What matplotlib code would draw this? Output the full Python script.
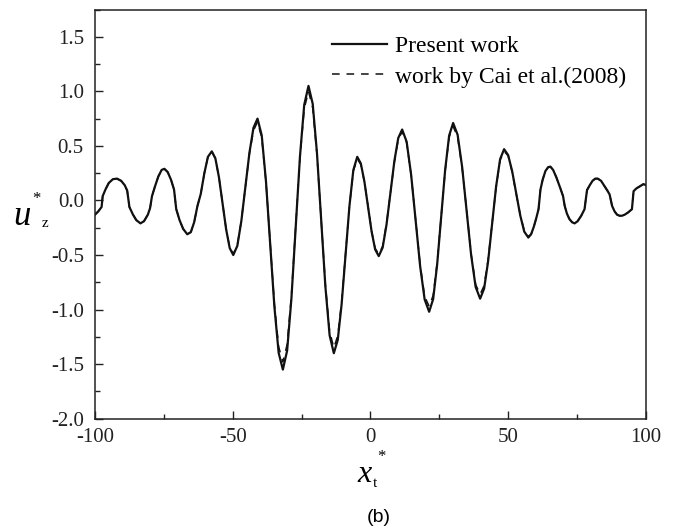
import matplotlib
matplotlib.use("Agg")
import matplotlib.pyplot as plt
from matplotlib.ticker import MultipleLocator, FormatStrFormatter

plt.rcParams['font.family'] = ['Liberation Serif', 'DejaVu Serif']
plt.rcParams['axes.unicode_minus'] = False

# ---------------------------------------------------------------
# datos (u_z* vs x_t*)
# ---------------------------------------------------------------
x_t = [-100, -98.8, -97.6, -97.2, -96.2, -95, -93.5, -92, -90.5, -89.2,
       -88.3, -87.5, -86.2, -85, -83.5, -82.2, -80.8, -80, -79.3, -78.2,
       -77, -75.8, -74.8, -73.6, -72.4, -71.3, -70.5, -69.3, -68, -66.5,
       -65.2, -64, -62.8, -61.6, -60.3, -59, -57.6,
       -56.3, -55.0, -53.7, -52.4, -51.1, -49.8,
       -48.33, -46.87, -45.4, -43.93, -42.47, -41.0,
       -39.47, -37.93, -36.4, -34.87, -33.33, -31.8,
       -30.25, -28.7, -27.15, -25.6, -24.05, -22.5,
       -20.97, -19.43, -17.9, -16.37, -14.83, -13.3,
       -11.88, -10.47, -9.05, -7.63, -6.22, -4.8,
       -3.5, -2.2, -0.9, 0.4, 1.7, 3.0,
       4.42, 5.83, 7.25, 8.67, 10.08, 11.5,
       13.13, 14.77, 16.4, 18.03, 19.67, 21.3,
       22.75, 24.2, 25.65, 27.1, 28.55, 30.0,
       31.63, 33.27, 34.9, 36.53, 38.17, 39.8,
       41.25, 42.7, 44.15, 45.6, 47.05, 48.5,
       49.97, 51.43, 52.9, 54.37, 55.83, 57.3,
       58.3, 59.3, 60.2, 61.0, 61.7, 62.5, 63.5, 64.5, 65.3, 66.3,
       67.5, 68.8, 69.9, 70.5, 71.3, 72.2, 73.2, 74.1, 75.2, 76.5,
       77.7, 78.6, 79.6, 80.6, 81.6, 82.5, 83.7, 85.0, 86.0, 86.8,
       87.7, 88.6, 89.5, 90.4, 91.3, 92.3, 93.5, 94.9, 95.5, 96.5,
       97.8, 99.1, 100]

# Present work
u_present = [-0.13, -0.10, -0.06, 0.04, 0.10, 0.16, 0.195, 0.20, 0.18, 0.14,
             0.09, -0.06, -0.13, -0.18, -0.21, -0.19, -0.13, -0.07, 0.04, 0.13,
             0.22, 0.28, 0.29, 0.26, 0.19, 0.10, -0.08, -0.18, -0.26, -0.31,
             -0.29, -0.20, -0.05, 0.06, 0.25, 0.40, 0.45,
             0.386, 0.213, -0.025, -0.263, -0.436, -0.50,
             -0.416, -0.188, 0.125, 0.438, 0.666, 0.75,
             0.596, 0.175, -0.40, -0.975, -1.396, -1.55,
             -1.376, -0.90, -0.25, 0.40, 0.876, 1.05,
             0.886, 0.438, -0.175, -0.788, -1.236, -1.40,
             -1.279, -0.95, -0.50, -0.05, 0.279, 0.40,
             0.339, 0.173, -0.055, -0.283, -0.449, -0.51,
             -0.432, -0.22, 0.07, 0.36, 0.572, 0.65,
             0.538, 0.233, -0.185, -0.603, -0.908, -1.02,
             -0.904, -0.588, -0.155, 0.278, 0.594, 0.71,
             0.602, 0.308, -0.095, -0.498, -0.792, -0.90,
             -0.808, -0.558, -0.215, 0.128, 0.378, 0.47,
             0.416, 0.268, 0.065, -0.138, -0.286, -0.34,
             -0.31, -0.24, -0.16, -0.08, 0.10, 0.19, 0.27, 0.305, 0.31, 0.28,
             0.21, 0.12, 0.04, -0.05, -0.12, -0.17, -0.20, -0.21, -0.19, -0.14,
             -0.08, 0.095, 0.14, 0.18, 0.20, 0.20, 0.18, 0.13, 0.09, 0.055,
             -0.05, -0.10, -0.13, -0.14, -0.14, -0.13, -0.11, -0.08, 0.085, 0.11,
             0.13, 0.15, 0.14]

# work by Cai et al.(2008)
u_cai = [-0.13, -0.10, -0.06, 0.04, 0.10, 0.16, 0.195, 0.20, 0.18, 0.14,
         0.09, -0.06, -0.13, -0.18, -0.21, -0.19, -0.13, -0.07, 0.04, 0.13,
         0.22, 0.28, 0.29, 0.26, 0.19, 0.10, -0.08, -0.18, -0.26, -0.31,
         -0.29, -0.20, -0.05, 0.06, 0.25, 0.40, 0.45,
         0.386, 0.213, -0.025, -0.26, -0.43, -0.49,
         -0.41, -0.185, 0.125, 0.43, 0.64, 0.72,
         0.575, 0.17, -0.39, -0.95, -1.34, -1.48,
         -1.32, -0.87, -0.24, 0.39, 0.84, 1.00,
         0.85, 0.42, -0.17, -0.77, -1.20, -1.35,
         -1.24, -0.93, -0.49, -0.05, 0.27, 0.38,
         0.33, 0.17, -0.05, -0.28, -0.44, -0.49,
         -0.42, -0.21, 0.07, 0.35, 0.56, 0.63,
         0.53, 0.23, -0.18, -0.59, -0.88, -0.97,
         -0.87, -0.57, -0.15, 0.27, 0.58, 0.68,
         0.58, 0.30, -0.09, -0.49, -0.77, -0.86,
         -0.78, -0.54, -0.21, 0.12, 0.37, 0.45,
         0.41, 0.26, 0.06, -0.13, -0.28, -0.33,
         -0.31, -0.24, -0.16, -0.08, 0.10, 0.19, 0.27, 0.305, 0.31, 0.28,
         0.21, 0.12, 0.04, -0.05, -0.12, -0.17, -0.20, -0.21, -0.19, -0.14,
         -0.08, 0.095, 0.14, 0.18, 0.20, 0.20, 0.18, 0.13, 0.09, 0.055,
         -0.05, -0.10, -0.13, -0.14, -0.14, -0.13, -0.11, -0.08, 0.085, 0.11,
         0.13, 0.15, 0.14]

# ---------------------------------------------------------------
# grafico
# ---------------------------------------------------------------
fig = plt.figure(figsize=(6.75, 5.28), dpi=100)
ax = fig.add_axes([0.1407, 0.2070, 0.8163, 0.7750])

ax.plot(x_t, u_present, color='#111111', lw=1.6, label='Present work')
ax.plot(x_t, u_cai, color='#111111', lw=1.1, ls=(0, (5, 4.5)),
        label='work by Cai et al.(2008)')

ax.set_xlim(-100, 100)
ax.set_ylim(-2.0, 1.75)
ax.xaxis.set_major_locator(MultipleLocator(50))
ax.xaxis.set_minor_locator(MultipleLocator(25))
ax.yaxis.set_major_locator(MultipleLocator(0.5))
ax.yaxis.set_minor_locator(MultipleLocator(0.25))
ax.yaxis.set_major_formatter(FormatStrFormatter('%.1f'))

ax.tick_params(which='both', direction='in', top=False, right=False,
               labelsize=15, width=1.0, colors='#222222')
ax.tick_params(which='major', length=6)
ax.tick_params(which='minor', length=3.5)
ax.tick_params(axis='x', pad=7)
ax.tick_params(axis='y', pad=8)
for s in ax.spines.values():
    s.set_linewidth(1.1)
    s.set_color('#222222')

ax.legend(loc='upper left', bbox_to_anchor=(0.430, 0.936), frameon=False,
          fontsize=17, handlelength=2.33, handletextpad=0.34,
          borderpad=0, borderaxespad=0, labelspacing=0.38)

# etiquetas de ejes
fig.text(13 / 675, 1 - 225 / 528, 'u', fontsize=25, style='italic',
         ha='left', va='baseline')
fig.text(36 / 675, 1 - 199 / 528, '*', fontsize=12, ha='center', va='center')
fig.text(42 / 675, 1 - 227 / 528, 'z', fontsize=11, ha='left', va='baseline')

fig.text(357 / 675, 1 - 482 / 528, 'x', fontsize=23, style='italic',
         ha='left', va='baseline')
fig.text(381 / 675, 1 - 457 / 528, '*', fontsize=12, ha='center', va='center')
fig.text(373 / 675, 1 - 487 / 528, 't', fontsize=11, ha='left', va='baseline')

fig.text(379 / 675, 1 - 517 / 528, '(b)', fontsize=14, family='Liberation Sans',
         ha='center', va='center')

fig.savefig('out.png', dpi=100)
